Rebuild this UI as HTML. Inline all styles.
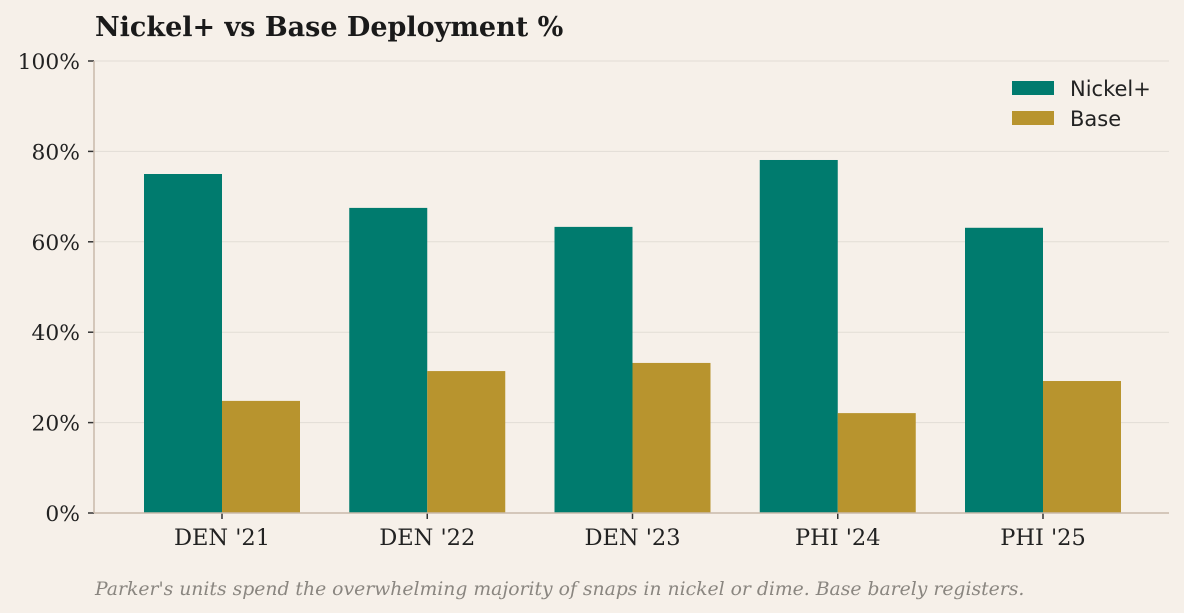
<!DOCTYPE html>
<html><head><meta charset="utf-8"><style>
html,body{margin:0;padding:0;background:#f6f0e9;}
svg{display:block;}
</style></head><body>
<svg id="chart" width="1184" height="613" viewBox="0 0 1184 613" xmlns="http://www.w3.org/2000/svg">
<rect width="1184" height="613" fill="#f6f0e9"/>
<text x="95" y="36" font-family="'DejaVu Serif','Liberation Serif',serif" font-weight="bold" font-size="27" fill="#1a1a1a">Nickel+ vs Base Deployment %</text>
<g id="grid"></g>
<g id="bars"></g>
<g id="axes"></g>
<g>
<rect x="1012" y="81" width="42" height="14" fill="#007b6e"/>
<text x="1070" y="96" font-family="'DejaVu Sans','Liberation Sans',sans-serif" font-size="21" fill="#222">Nickel+</text>
<rect x="1012" y="111" width="42" height="14" fill="#b8942e"/>
<text x="1070" y="126" font-family="'DejaVu Sans','Liberation Sans',sans-serif" font-size="21" fill="#222">Base</text>
</g>
<text x="95" y="595" font-family="'DejaVu Serif','Liberation Serif',serif" font-style="italic" font-size="18.8" fill="#8a8680">Parker's units spend the overwhelming majority of snaps in nickel or dime. Base barely registers.</text>
</svg>
<script>
const categories = ["DEN '21","DEN '22","DEN '23","PHI '24","PHI '25"];
const nickelValues = [75.0,67.5,63.3,78.1,63.1];
const baseValues = [24.8,31.4,33.2,22.1,29.2];
const yTicks = [0,20,40,60,80,100];
const yTickLabels = ["0%","20%","40%","60%","80%","100%"];

const NS="http://www.w3.org/2000/svg";
const x0=94,x1=1169,y0=513,yTop=61;
const band=205.25;
function yScale(v){return y0-(v/100)*(y0-yTop);}
function xCenter(i){return 222+band*i;}
function mk(tag,attrs,parent){const e=document.createElementNS(NS,tag);for(const k in attrs)e.setAttribute(k,attrs[k]);parent.appendChild(e);return e;}
const grid=document.getElementById('grid'),bars=document.getElementById('bars'),axes=document.getElementById('axes');
yTicks.forEach((t,i)=>{
  const y=yScale(t);
  if(t>0){const g=mk('line',{x1:x0,x2:x1,y1:y,y2:y,stroke:'#e2ddd5','stroke-width':1},grid);
  
  }
  const tk=mk('line',{x1:x0-6,x2:x0,y1:y,y2:y,stroke:'#333','stroke-width':1.5},axes);
  
  
  const lb=mk('text',{x:x0-14,y:y+8,'text-anchor':'end','font-family':"'DejaVu Serif','Liberation Serif',serif",'font-size':21.8,fill:'#222'},axes);
  lb.textContent=yTickLabels[i];
  
  
});
const bw=78;
categories.forEach((c,i)=>{
  const cx=xCenter(i);
  const n=mk('rect',{x:cx-bw,y:yScale(nickelValues[i]),width:bw,height:y0-yScale(nickelValues[i]),fill:'#007b6e'},bars);
  
  
  const b=mk('rect',{x:cx,y:yScale(baseValues[i]),width:bw,height:y0-yScale(baseValues[i]),fill:'#b8942e'},bars);
  
  
  const tk=mk('line',{x1:cx,x2:cx,y1:y0,y2:y0+6,stroke:'#333','stroke-width':1.5},axes);
  
  
  const lb=mk('text',{x:cx,y:y0+32,'text-anchor':'middle','font-family':"'DejaVu Serif','Liberation Serif',serif",'font-size':22.5,fill:'#222'},axes);
  lb.textContent=c;
  
  
});
const ya=mk('line',{x1:x0,x2:x0,y1:yTop,y2:y0,stroke:'#c9b9aa','stroke-width':1.5},axes);


const xa=mk('line',{x1:x0,x2:x1,y1:y0,y2:y0,stroke:'#c9b9aa','stroke-width':1.5},axes);


</script>
</body></html>
